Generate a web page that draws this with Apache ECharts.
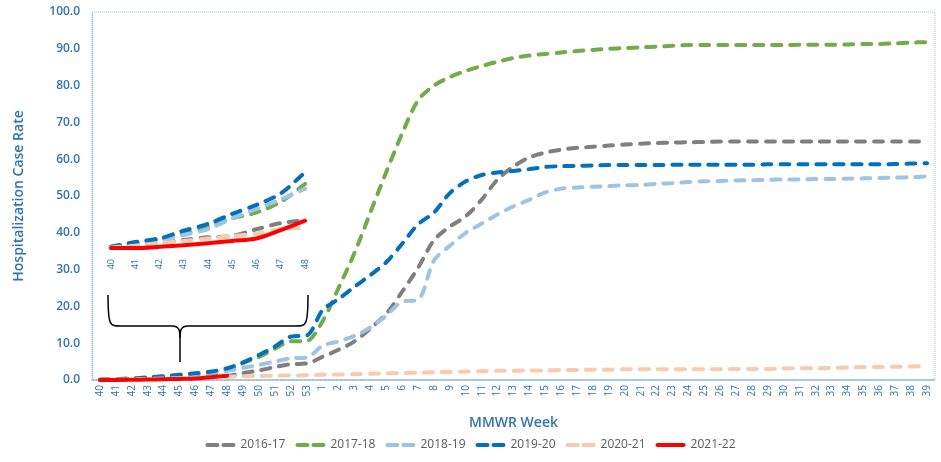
<!DOCTYPE html>
<html><head><meta charset="utf-8">
<script src="https://cdn.jsdelivr.net/npm/echarts@6/dist/echarts.min.js"></script>
<style>html,body{margin:0;padding:0;background:#fff}#c{width:941px;height:462px}</style>
</head><body><div id="c"></div>
<script>
var weeks = ['40','41','42','43','44','45','46','47','48','49','50','51','52','53',
 '1','2','3','4','5','6','7','8','9','10','11','12','13','14','15','16','17','18','19','20',
 '21','22','23','24','25','26','27','28','29','30','31','32','33','34','35','36','37','38','39'];
var yTicks = [0,10,20,30,40,50,60,70,80,90,100];
var s1617 = [0.02,0.1,0.2,0.34,0.45,0.51,0.79,1.05,1.16,1.9,2.6,3.5,4.3,4.5,
 6.3,8.2,10.5,14,18,24,30.5,38,41.7,44.5,49,54.5,58,60.5,61.8,62.6,63.1,63.4,63.7,64,
 64.2,64.4,64.5,64.6,64.7,64.8,64.8,64.8,64.8,64.8,64.8,64.8,64.8,64.8,64.8,64.8,64.8,64.8,64.8];
var s1718 = [0.05,0.2,0.4,0.6,0.9,1.25,1.5,1.95,2.7,4.6,6.3,8.5,10.5,10.6,
 16,25,34.5,45.5,56.5,67,76,80,82.3,84,85.3,86.5,87.5,88.2,88.6,89,89.4,89.7,90,90.2,
 90.4,90.6,90.8,91,91,91,91,91,91,91,91.1,91.1,91.1,91.2,91.3,91.3,91.5,91.7,91.8];
var s1819 = [0.05,0.2,0.35,0.55,0.8,1.25,1.65,2.05,2.5,3.3,4.1,5.0,5.9,6.1,
 9.3,10.5,12,14.3,17.5,21.3,21.8,32.5,36.5,40,42.5,45,47.2,49,51,52,52.3,52.5,52.7,52.9,
 53,53.3,53.5,53.8,54,54.1,54.2,54.3,54.4,54.5,54.5,54.6,54.6,54.7,54.8,54.9,55,55.1,55.3];
var s1920 = [0.05,0.25,0.4,0.73,1.02,1.44,1.82,2.3,3.2,4.8,6.8,9.1,11.8,12.1,
 19,22,25.3,28.5,32,37,42.3,45.5,50.8,54,55.7,56.4,56.8,57.3,57.9,58.1,58.2,58.3,58.4,58.4,
 58.4,58.4,58.5,58.5,58.5,58.5,58.5,58.5,58.6,58.6,58.6,58.6,58.6,58.6,58.6,58.6,58.7,58.8,58.9];
var s2021 = [0.02,0.1,0.2,0.3,0.4,0.5,0.6,0.8,0.85,1.0,1.1,1.2,1.2,1.3,
 1.4,1.5,1.6,1.7,1.8,1.9,2.0,2.1,2.2,2.3,2.4,2.5,2.5,2.6,2.6,2.7,2.7,2.8,2.8,2.9,
 2.9,2.9,2.9,2.9,2.9,2.9,3.0,3.0,3.0,3.1,3.2,3.2,3.3,3.4,3.5,3.5,3.6,3.7,3.8];
var s2122 = [0.0,0.0,0.05,0.12,0.2,0.3,0.4,0.75,1.15];
var insetWeeks = ['40','41','42','43','44','45','46','47','48'];

var names = ['2016-17','2017-18','2018-19','2019-20','2020-21','2021-22'];
var colors = ['#7F7F7F','#70AD47','#9DC3E6','#0070C0','#F8CBAD','#FF0000'];
var datas = [s1617,s1718,s1819,s1920,s2021,s2122];
var BLUE = '#2E75B6';
var FONT = 'Open Sans';
var DASH_ICON = 'path://M2,0 h10 a2,2 0 0 1 0,4 h-10 a2,2 0 0 1 0,-4 z M18,0 h10 a2,2 0 0 1 0,4 h-10 a2,2 0 0 1 0,-4 z';
var SOLID_ICON = 'path://M2,0 h26 a2,2 0 0 1 0,4 h-26 a2,2 0 0 1 0,-4 z';

var series = [];
names.forEach(function(n,i){
  var solid = (i===5);
  var ls = {color: colors[i], width: 4, type: solid ? 'solid' : [9,9], cap: 'round', join:'round'};
  series.push({name:n, type:'line', data: datas[i], xAxisIndex:0, yAxisIndex:0,
    symbol:'none', smooth:0.3, lineStyle: ls, itemStyle:{color:colors[i]}, z: 2+i});
  series.push({name:n, type:'line', data: datas[i].slice(0,9), xAxisIndex:1, yAxisIndex:1,
    symbol:'none', smooth:0.3, lineStyle: ls, itemStyle:{color:colors[i]}, z: 2+i});
});

var chart = echarts.init(document.getElementById('c'), null, {renderer:'canvas'});
chart.setOption({
  animation:false,
  backgroundColor:'#fff',
  textStyle:{fontFamily:FONT},
  grid:[
    {left:92, right:6, top:12, bottom:82, show:true, borderColor:'#9DC3E6', borderWidth:1, borderType:'dotted', backgroundColor:'transparent'},
    {left:111, right:636, top:165, bottom:214}
  ],
  xAxis:[
    {type:'category', data:weeks, gridIndex:0, boundaryGap:true,
     name:'MMWR Week', nameLocation:'middle', nameGap:36,
     nameTextStyle:{color:BLUE, fontSize:14, fontWeight:600, fontFamily:FONT},
     axisLine:{lineStyle:{color:'#9DC3E6', type:'dotted', width:2}},
     axisTick:{show:false},
     axisLabel:{interval:0, rotate:90, color:BLUE, fontSize:10, margin:5, fontFamily:FONT}},
    {type:'category', data:insetWeeks, gridIndex:1, boundaryGap:false,
     axisLine:{show:false}, axisTick:{show:false},
     axisLabel:{interval:0, rotate:90, color:BLUE, fontSize:9, margin:11, fontFamily:FONT}}
  ],
  yAxis:[
    {type:'value', gridIndex:0, min:yTicks[0], max:yTicks[yTicks.length-1], interval:10,
     name:'Hospitalization Case Rate', nameLocation:'middle', nameGap:66,
     nameTextStyle:{color:BLUE, fontSize:14, fontWeight:600, fontFamily:FONT},
     axisLine:{show:true, lineStyle:{color:'#9DC3E6', type:'dotted'}},
     axisTick:{show:false}, splitLine:{show:false},
     axisLabel:{color:BLUE, fontSize:12, fontWeight:600, margin:12, fontFamily:FONT,
       formatter:function(v){return v.toFixed(1);}}},
    {type:'value', gridIndex:1, min:0, max:3.5, show:false, splitLine:{show:false}}
  ],
  legend:{data:names.map(function(n,i){return {name:n, icon: i===5 ? SOLID_ICON : DASH_ICON};}),
    bottom:6, left:'center', itemWidth:30, itemHeight:4, itemGap:10,
    textStyle:{color:'#595959', fontSize:12, fontFamily:FONT}},
  series:series
});

// brace annotation under the inset, positioned from the inset axis
var pL = chart.convertToPixel({xAxisIndex:1, yAxisIndex:1}, ['40', 0])[0];
var pR = chart.convertToPixel({xAxisIndex:1, yAxisIndex:1}, ['48', 0])[0];
var x1 = pL - 3, x2 = pR + 3, xm = x1 + (x2 - x1) * 0.36;
var yt = 295, yb = 326, ys = 362;
var st = {stroke:'#000', lineWidth:1.5, fill:null};
var g = [
  {type:'bezierCurve', shape:{x1:x1, y1:yt, x2:x1+12, y2:yb, cpx1:x1, cpy1:yb, cpx2:x1+2, cpy2:yb}, style:st, z:100},
  {type:'line', shape:{x1:x1+12, y1:yb, x2:xm-8, y2:yb}, style:st, z:100},
  {type:'bezierCurve', shape:{x1:xm-8, y1:yb, x2:xm, y2:yb+12, cpx1:xm-1, cpy1:yb, cpx2:xm, cpy2:yb+4}, style:st, z:100},
  {type:'bezierCurve', shape:{x1:xm+8, y1:yb, x2:xm, y2:yb+12, cpx1:xm+1, cpy1:yb, cpx2:xm, cpy2:yb+4}, style:st, z:100},
  {type:'line', shape:{x1:xm, y1:yb+12, x2:xm, y2:ys}, style:st, z:100},
  {type:'line', shape:{x1:xm+8, y1:yb, x2:x2-12, y2:yb}, style:st, z:100},
  {type:'bezierCurve', shape:{x1:x2-12, y1:yb, x2:x2, y2:yt, cpx1:x2-2, cpy1:yb, cpx2:x2, cpy2:yb}, style:st, z:100}
];
chart.setOption({graphic:g});
</script></body></html>
